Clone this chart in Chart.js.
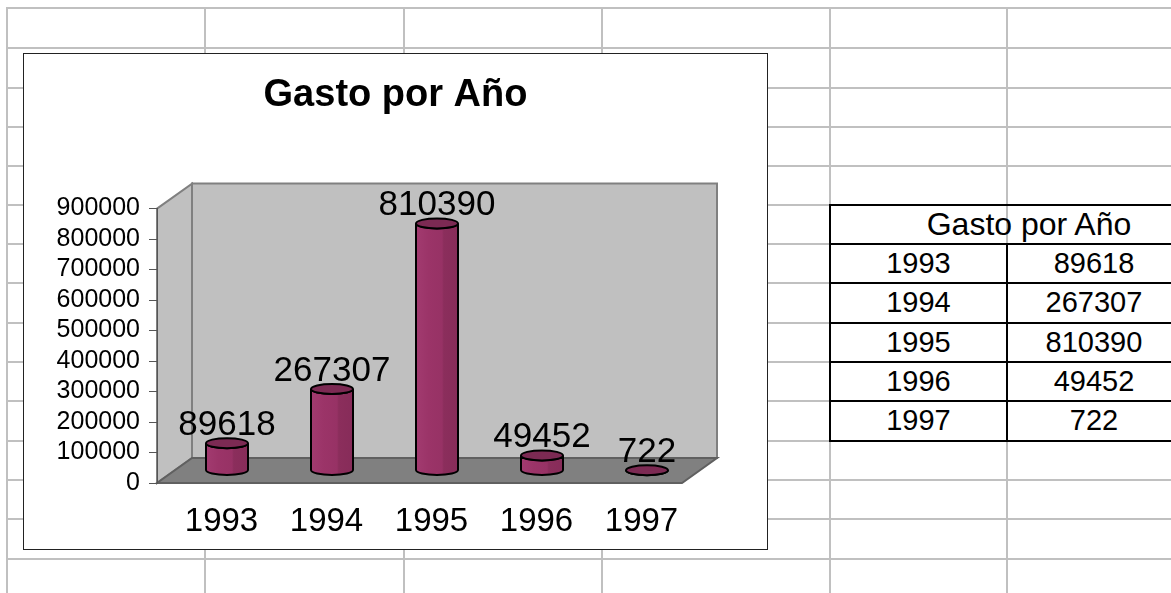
<!DOCTYPE html>
<html lang="es">
<head>
<meta charset="utf-8">
<title>Gasto por Año</title>
<script src="https://cdn.jsdelivr.net/npm/chart.js@4.4.0/dist/chart.umd.min.js"></script>
<style>
  html, body { margin:0; padding:0; background:#fff; width:1171px; height:593px; overflow:hidden; position:relative;
    font-family:'Liberation Sans', Arial, sans-serif; }
  .gl { position:absolute; background:#c0c0c0; }
  .tl { position:absolute; background:#000; }
  .cell { position:absolute; font-size:29px; color:#000; text-align:center; line-height:39px; white-space:nowrap; }
  .cell.hd { font-size:32px; }
  #chart-box { position:absolute; left:23px; top:53px; width:743px; height:495px; border:1px solid #222; background:#fff; }
  #chart-box canvas { position:absolute; left:0; top:0; }
</style>
</head>
<body>
<div id="sheet"></div>
<div id="chart-box"><canvas id="c-gasto" width="743" height="495"></canvas></div>

<script>
// data
const title  = 'Gasto por Año';
const years  = ['1993', '1994', '1995', '1996', '1997'];
const gasto  = [89618, 267307, 810390, 49452, 722];
const yMax   = 900000;
const yStep  = 100000;

// spreadsheet grid + table (sheet layout, not data)
const rowLines = [7, 47, 87, 126, 165, 204, 243, 282, 322, 361, 400, 440, 479, 518, 558];
const colLines = [6, 204, 403, 601, 829, 1006];
const tblRows  = [204, 243, 282, 322, 361, 400, 440];

function line(cls, x, y, w, h) {
  const d = document.createElement('div');
  d.className = cls;
  d.style.cssText = `left:${x}px;top:${y}px;width:${w}px;height:${h}px`;
  document.getElementById('sheet').appendChild(d);
}
function cell(txt, x, y, w, cls) {
  const d = document.createElement('div');
  d.className = 'cell' + (cls ? ' ' + cls : '');
  d.textContent = txt;
  d.style.cssText = `left:${x}px;top:${y}px;width:${w}px`;
  document.getElementById('sheet').appendChild(d);
}

rowLines.forEach(y => line('gl', 6, y, 1171, 2));
colLines.forEach(x => line('gl', x, 7, 2, 600));

// table block E5:F10
tblRows.forEach(y => line('tl', 829, y, 360, 2));
line('tl', 829, 204, 2, 238);
line('tl', 1006, 243, 2, 199);
cell(title, 878, 205, 302, 'hd');
years.forEach((yr, i) => {
  const top = tblRows[i+1] + 1;
  cell(yr, 831, top, 175);
  cell(String(gasto[i]), 1008, top, 172);
});

// chart
const DX = 35, DY = 25;   // 3d depth offset

function poly(ctx, pts, fill, stroke) {
  ctx.beginPath();
  pts.forEach(([x,y],i) => i ? ctx.lineTo(x,y) : ctx.moveTo(x,y));
  ctx.closePath();
  ctx.fillStyle = fill; ctx.fill();
  ctx.strokeStyle = stroke; ctx.stroke();
}

const box3d = {
  id: 'box3d',
  beforeDraw(chart) {
    const { ctx, chartArea: a } = chart;
    ctx.save();
    ctx.lineWidth = 2;
    ctx.lineJoin = 'miter';
    poly(ctx, [[a.left+DX,a.top-DY],[a.right+DX,a.top-DY],[a.right+DX,a.bottom-DY],[a.left+DX,a.bottom-DY]], '#c0c0c0', '#808080');
    poly(ctx, [[a.left,a.top],[a.left+DX,a.top-DY],[a.left+DX,a.bottom-DY],[a.left,a.bottom]], '#c0c0c0', '#808080');
    poly(ctx, [[a.left,a.bottom],[a.right,a.bottom],[a.right+DX,a.bottom-DY],[a.left+DX,a.bottom-DY]], '#808080', '#606060');
    ctx.restore();
  },
  afterDatasetsDraw(chart) {
    const ctx = chart.ctx;
    const meta = chart.getDatasetMeta(0);
    const ry = 5;
    ctx.save();
    const tops = [];
    meta.data.forEach(el => {
      const cx = el.x + DX/2, rx = el.width/2;
      const top = el.y - DY/2, base = el.base - DY/2;
      tops.push([cx, top]);
      const g = ctx.createLinearGradient(cx-rx, 0, cx+rx, 0);
      g.addColorStop(0, '#a23b70');
      g.addColorStop(0.3, '#9b3468');
      g.addColorStop(0.62, '#973265');
      g.addColorStop(0.66, '#8b2e5c');
      g.addColorStop(1, '#872c59');
      ctx.beginPath();
      ctx.moveTo(cx-rx, top);
      ctx.lineTo(cx-rx, base);
      ctx.ellipse(cx, base, rx, ry, 0, Math.PI, 0, true);
      ctx.lineTo(cx+rx, top);
      ctx.ellipse(cx, top, rx, ry, 0, 0, Math.PI, false);
      ctx.closePath();
      ctx.fillStyle = g; ctx.fill();
      ctx.lineWidth = 2; ctx.strokeStyle = '#000'; ctx.stroke();
      ctx.beginPath();
      ctx.ellipse(cx, top, rx, ry, 0, 0, Math.PI*2);
      ctx.fillStyle = '#7c2a53'; ctx.fill();
      ctx.stroke();
    });
    // value labels
    ctx.font = '35px "Liberation Sans", Arial, sans-serif';
    ctx.fillStyle = '#000';
    ctx.textAlign = 'center';
    ctx.textBaseline = 'alphabetic';
    tops.forEach(([cx, top], i) => ctx.fillText(String(gasto[i]), cx, top - 8));
    ctx.restore();
  }
};

new Chart(document.getElementById('c-gasto'), {
  type: 'bar',
  data: {
    labels: years,
    datasets: [{ label: title, data: gasto, backgroundColor: 'rgba(0,0,0,0)', borderWidth: 0,
      barPercentage: 0.4, categoryPercentage: 1.0 }]
  },
  options: {
    responsive: false, animation: false,
    layout: { padding: 0 },
    plugins: {
      legend: { display: false },
      tooltip: { enabled: false },
      title: { display: true, text: title, color: '#000',
        font: { family: '"Liberation Sans", Arial, sans-serif', size: 38, weight: 'bold' },
        padding: { top: 19, bottom: 90 } }
    },
    scales: {
      x: {
        grid: { display: false, drawTicks: false },
        border: { display: false },
        ticks: { color: '#000', padding: 19, labelOffset: 12,
          font: { family: '"Liberation Sans", Arial, sans-serif', size: 33 } },
        afterFit: s => { s.height = 66; }
      },
      y: {
        min: 0, max: yMax,
        grid: { drawOnChartArea: false, drawTicks: true, tickLength: 8, color: '#555' },
        border: { display: true, color: '#555', width: 1 },
        ticks: { stepSize: yStep, autoSkip: false, color: '#000', padding: 9, callback: v => String(v),
          font: { family: '"Liberation Sans", Arial, sans-serif', size: 25 } },
        afterFit: s => { s.width = 133; }
      },
      // empty right-hand space taken by the depth of the 3d box
      depth: {
        type: 'linear', position: 'right', min: 0, max: 1,
        grid: { display: false }, border: { display: false }, ticks: { display: false },
        afterFit: s => { s.width = 85; }
      }
    }
  },
  plugins: [box3d]
});
</script>
</body>
</html>
